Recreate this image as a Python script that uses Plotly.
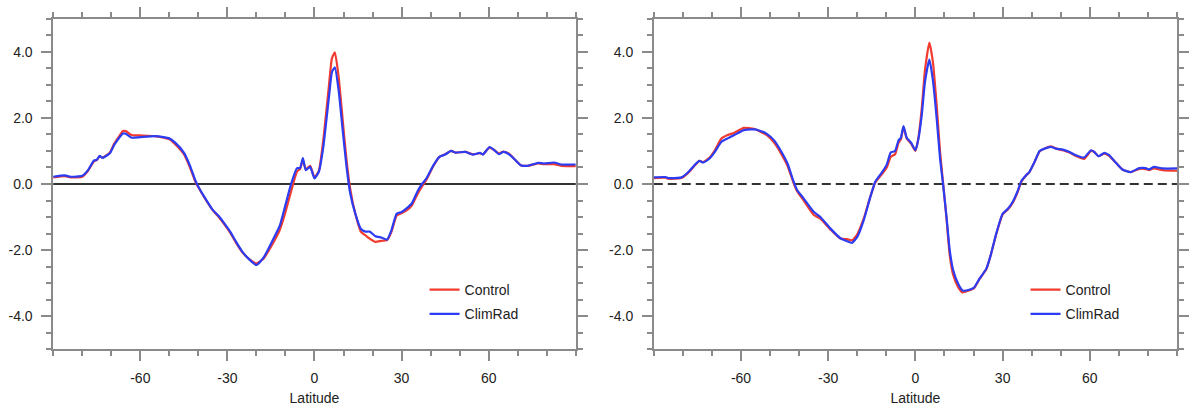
import plotly.graph_objects as go

# ---------------- data ----------------
lat_left = [-90, -86, -84, -80, -78, -76, -75, -74, -73, -70.5, -69, -67, -66, -65, -63, -60, -55, -52, -50,
            -48, -45, -43, -41, -40, -38, -35, -33, -31.5, -29, -27, -25, -22.5, -20, -17.5, -14.5, -12,
            -10.5, -8, -6, -5, -4, -3, -1.5, 0, 1.5, 3, 5, 6, 7, 8.3, 9.7, 11, 12.3, 14, 16, 17.5, 19, 21,
            23, 25, 26.5, 28.3, 30, 31.7, 33.5, 35.5, 37, 38.5, 41, 43, 45, 47, 48.5, 52, 54.5, 57, 58,
            60.3, 62, 63.5, 65, 67, 69, 71, 73.5, 77, 79, 82.5, 85, 90]

climrad_left = [0.22, 0.26, 0.22, 0.25, 0.42, 0.71, 0.73, 0.85, 0.79, 0.93, 1.18, 1.43, 1.53, 1.52, 1.40,
                1.42, 1.45, 1.42, 1.38, 1.25, 0.95, 0.58, 0.10, -0.08, -0.38, -0.79, -0.97, -1.14, -1.45,
                -1.75, -2.03, -2.28, -2.45, -2.22, -1.72, -1.27, -0.80, 0.02, 0.48, 0.48, 0.78, 0.42, 0.52,
                0.17, 0.37, 1.10, 2.65, 3.38, 3.53, 2.85, 1.64, 0.55, -0.28, -0.88, -1.36, -1.44, -1.44,
                -1.58, -1.62, -1.68, -1.40, -0.90, -0.85, -0.74, -0.59, -0.22, 0.00, 0.16, 0.57, 0.82,
                0.89, 1.00, 0.95, 0.97, 0.89, 0.94, 0.89, 1.12, 1.02, 0.90, 0.97, 0.90, 0.74, 0.57, 0.55,
                0.64, 0.62, 0.65, 0.59, 0.59]

control_left = [0.20, 0.24, 0.20, 0.22, 0.40, 0.68, 0.72, 0.84, 0.80, 0.95, 1.22, 1.48, 1.60, 1.60, 1.48,
                1.47, 1.45, 1.40, 1.35, 1.20, 0.90, 0.52, 0.06, -0.10, -0.40, -0.80, -1.00, -1.17, -1.48,
                -1.78, -2.05, -2.27, -2.40, -2.25, -1.82, -1.40, -1.00, -0.20, 0.38, 0.45, 0.72, 0.45, 0.55,
                0.20, 0.40, 1.30, 3.00, 3.80, 3.98, 3.25, 1.95, 0.75, -0.15, -0.88, -1.45, -1.55, -1.65,
                -1.75, -1.72, -1.70, -1.45, -0.95, -0.88, -0.80, -0.65, -0.30, -0.08, 0.12, 0.55, 0.82,
                0.90, 1.00, 0.95, 0.97, 0.90, 0.93, 0.90, 1.10, 1.02, 0.92, 0.98, 0.92, 0.74, 0.57, 0.55,
                0.62, 0.60, 0.60, 0.55, 0.54]

lat_right = [-90, -86, -85, -80.5, -78, -76, -74.3, -73, -70.8, -69, -66.8, -64.6, -62.3, -59, -55.5, -53.8,
             -51, -48.6, -46.4, -44, -42, -40.7, -38.4, -35, -32.7, -29.2, -25.8, -23.5, -21.8, -20, -17.8,
             -15.5, -13.8, -11.5, -9.8, -8.5, -7, -5.8, -5, -4.1, -3, -1.5, 0, 1, 2.2, 3.3, 4.8, 6, 7.3,
             8.5, 9.5, 10.7, 11.8, 13, 14.7, 16.2, 18.5, 20.2, 22, 24.4, 26, 27.8, 30, 31.8, 33.6, 35,
             36.5, 38, 39.2, 41, 42.7, 44.4, 46.7, 48.4, 50.7, 53, 55.2, 58, 60.4, 61.5, 63, 65, 66.6, 69,
             71.2, 74, 77, 79.2, 80.4, 82, 85, 90]

climrad_right = [0.20, 0.21, 0.18, 0.20, 0.37, 0.57, 0.70, 0.65, 0.77, 0.97, 1.27, 1.38, 1.48, 1.63, 1.65,
                 1.62, 1.51, 1.32, 1.02, 0.62, 0.10, -0.18, -0.44, -0.84, -1.00, -1.35, -1.64, -1.73,
                 -1.78, -1.60, -1.10, -0.39, 0.07, 0.35, 0.60, 0.95, 1.00, 1.32, 1.40, 1.75, 1.40, 1.25,
                 1.02, 1.35, 2.10, 3.10, 3.76, 3.15, 2.00, 0.75, 0.00, -1.00, -2.00, -2.61, -3.02, -3.22,
                 -3.20, -3.13, -2.87, -2.56, -2.12, -1.50, -0.90, -0.75, -0.52, -0.25, 0.10, 0.26, 0.36,
                 0.67, 1.00, 1.07, 1.12, 1.07, 1.04, 0.97, 0.87, 0.80, 1.02, 0.97, 0.84, 0.94, 0.87, 0.64,
                 0.44, 0.36, 0.48, 0.48, 0.44, 0.52, 0.47, 0.47]

control_right = [0.18, 0.19, 0.16, 0.18, 0.35, 0.55, 0.70, 0.66, 0.80, 1.02, 1.37, 1.48, 1.55, 1.70, 1.67,
                 1.60, 1.47, 1.25, 0.95, 0.55, 0.05, -0.22, -0.50, -0.93, -1.05, -1.38, -1.65, -1.67,
                 -1.70, -1.52, -1.05, -0.38, 0.05, 0.30, 0.51, 0.82, 0.90, 1.25, 1.35, 1.72, 1.38, 1.22,
                 1.00, 1.38, 2.30, 3.45, 4.28, 3.70, 2.40, 0.95, 0.05, -1.05, -2.15, -2.75, -3.12, -3.28,
                 -3.22, -3.15, -2.88, -2.58, -2.12, -1.52, -0.92, -0.77, -0.55, -0.28, 0.08, 0.25, 0.36,
                 0.67, 0.98, 1.07, 1.14, 1.07, 1.02, 0.95, 0.85, 0.76, 1.00, 0.97, 0.84, 0.92, 0.85, 0.64,
                 0.44, 0.36, 0.46, 0.45, 0.42, 0.47, 0.42, 0.40]

x_ticks = [-60, -30, 0, 30, 60]
x_ticklabels = ["-60", "-30", "0", "30", "60"]
y_ticks = [-4, -2, 0, 2, 4]
y_ticklabels = ["-4.0", "-2.0", "0.0", "2.0", "4.0"]
series_names = ["Control", "ClimRad"]

# ---------------- styling ----------------
RED = "#f23b2f"
BLUE = "#2b3cf2"
AX = "#8a8a8a"
TXT = "#222222"
FONT = "Liberation Sans, Arial, Helvetica, sans-serif"

fig = go.Figure()

panels = [
    (lat_left, control_left, climrad_left, "x", "y", "legend"),
    (lat_right, control_right, climrad_right, "x2", "y2", "legend2"),
]
for i, (lat, ctl, clim, xa, ya, lg) in enumerate(panels):
    fig.add_trace(go.Scatter(x=lat, y=ctl, mode="lines", name=series_names[0],
                             line=dict(color=RED, width=2.2, shape="spline", smoothing=0.5),
                             xaxis=xa, yaxis=ya, legend=lg, legendgroup=f"c{i}"))
    fig.add_trace(go.Scatter(x=lat, y=clim, mode="lines", name=series_names[1],
                             line=dict(color=BLUE, width=2.2, shape="spline", smoothing=0.5),
                             xaxis=xa, yaxis=ya, legend=lg, legendgroup=f"r{i}"))

xdoms = [[0.0449, 0.4859], [0.5517, 0.9933]]
ydom = [0.1522, 0.9546]

def xaxis_cfg(dom, anchor):
    return dict(domain=dom, anchor=anchor, range=[-90, 90], tickmode="array",
                tickvals=x_ticks, ticktext=x_ticklabels, ticks="outside", ticklen=10,
                tickwidth=1.5, tickcolor=AX, showline=True, linecolor=AX, linewidth=1.5,
                mirror="allticks", showgrid=False, zeroline=False,
                tickfont=dict(family=FONT, size=14, color=TXT), ticklabelstandoff=5,
                minor=dict(dtick=10, tick0=0, ticks="outside", ticklen=5, tickwidth=1.5,
                           tickcolor=AX, showgrid=False),
                title=dict(text="Latitude", font=dict(family=FONT, size=14, color=TXT), standoff=8))

def yaxis_cfg(anchor):
    return dict(domain=ydom, anchor=anchor, range=[-5, 5], tickmode="array",
                tickvals=y_ticks, ticktext=y_ticklabels, ticks="outside", ticklen=10,
                tickwidth=1.5, tickcolor=AX, showline=True, linecolor=AX, linewidth=1.5,
                mirror="allticks", showgrid=False, zeroline=False,
                tickfont=dict(family=FONT, size=14, color=TXT), ticklabelstandoff=6,
                minor=dict(dtick=0.5, tick0=0, ticks="outside", ticklen=5, tickwidth=1.5,
                           tickcolor=AX, showgrid=False))

fig.update_layout(
    width=1189, height=412,
    margin=dict(l=0, r=0, t=0, b=0),
    paper_bgcolor="white", plot_bgcolor="white",
    xaxis=xaxis_cfg(xdoms[0], "y"),
    yaxis=yaxis_cfg("x"),
    xaxis2=xaxis_cfg(xdoms[1], "y2"),
    yaxis2=yaxis_cfg("x2"),
    legend=dict(x=426 / 1189, y=1 - 274 / 412, xanchor="left", yanchor="top",
                bgcolor="rgba(0,0,0,0)", font=dict(family=FONT, size=14, color=TXT),
                tracegroupgap=3, itemwidth=30),
    legend2=dict(x=1029 / 1189, y=1 - 274 / 412, xanchor="left", yanchor="top",
                 bgcolor="rgba(0,0,0,0)", font=dict(family=FONT, size=14, color=TXT),
                 tracegroupgap=3, itemwidth=30),
    showlegend=True,
)

# zero reference lines
fig.add_shape(type="line", xref="x domain", yref="y", x0=0, x1=1, y0=0, y1=0,
              line=dict(color="#333333", width=2), layer="below")
fig.add_shape(type="line", xref="x2 domain", yref="y2", x0=0, x1=1, y0=0, y1=0,
              line=dict(color="#333333", width=2, dash="9px,5px"), layer="below")

fig.write_html("out.html")
